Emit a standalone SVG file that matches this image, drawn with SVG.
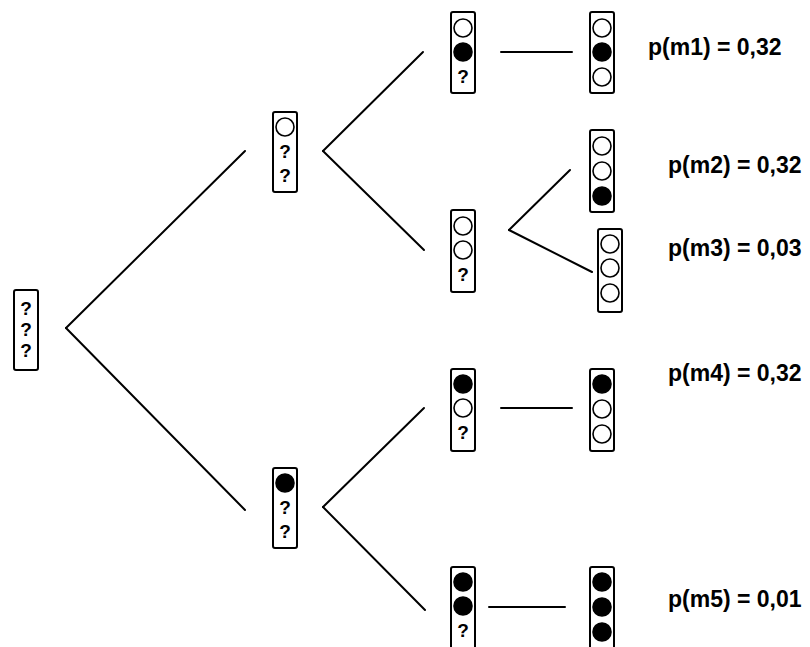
<svg xmlns="http://www.w3.org/2000/svg" width="810" height="647" viewBox="0 0 810 647">
<style>
.box{fill:#fff;stroke:#000;stroke-width:2}
.on{fill:#000;stroke:#000;stroke-width:1.6}
.off{fill:#fff;stroke:#000;stroke-width:1.6}
.q{font-family:"Liberation Sans",Arial,sans-serif;font-weight:bold;font-size:19px;text-anchor:middle;fill:#000}
.lbl{font-family:"Liberation Sans",Arial,sans-serif;font-weight:bold;font-size:23px;fill:#000}
.conn line{stroke:#000;stroke-width:2;stroke-linecap:round}
</style>
<rect width="810" height="647" fill="#fff"/>
<g class="conn" id="connectors">
<line x1="66" y1="328" x2="245" y2="151"/>
<line x1="66" y1="328" x2="245" y2="510"/>
<line x1="323" y1="151" x2="423" y2="52"/>
<line x1="323" y1="151" x2="424" y2="250"/>
<line x1="323" y1="507" x2="424" y2="408"/>
<line x1="323" y1="507" x2="425" y2="610"/>
<line x1="501" y1="52" x2="572" y2="52"/>
<line x1="509" y1="230" x2="570" y2="170"/>
<line x1="509" y1="230" x2="592" y2="272"/>
<line x1="501" y1="408" x2="572" y2="408"/>
<line x1="489" y1="607" x2="565" y2="607"/>
</g>
<g id="root">
<rect class="box" x="14" y="290" width="24" height="80" rx="2"/>
<text class="q" x="26" y="315">?</text>
<text class="q" x="26" y="336">?</text>
<text class="q" x="26" y="357">?</text>
</g>
<g id="n1a">
<rect class="box" x="273" y="112" width="24" height="80" rx="2"/>
<circle class="off" cx="285" cy="127" r="9"/>
<text class="q" x="285" y="158">?</text>
<text class="q" x="285" y="182">?</text>
</g>
<g id="n1b">
<rect class="box" x="273" y="468" width="24" height="80" rx="2"/>
<circle class="on" cx="285" cy="483" r="9"/>
<text class="q" x="285" y="514">?</text>
<text class="q" x="285" y="538">?</text>
</g>
<g id="n2a">
<rect class="box" x="451" y="12" width="24" height="81" rx="2"/>
<circle class="off" cx="463" cy="28" r="9"/>
<circle class="on" cx="463" cy="52" r="9"/>
<text class="q" x="463" y="83">?</text>
</g>
<g id="n2b">
<rect class="box" x="451" y="210" width="24" height="82" rx="2"/>
<circle class="off" cx="463" cy="226" r="9"/>
<circle class="off" cx="463" cy="250" r="9"/>
<text class="q" x="463" y="281">?</text>
</g>
<g id="n2c">
<rect class="box" x="451" y="369" width="24" height="82" rx="2"/>
<circle class="on" cx="463" cy="384" r="9"/>
<circle class="off" cx="463" cy="408" r="9"/>
<text class="q" x="463" y="439">?</text>
</g>
<g id="n2d">
<rect class="box" x="451" y="567" width="24" height="82" rx="2"/>
<circle class="on" cx="463" cy="582" r="9"/>
<circle class="on" cx="463" cy="606" r="9"/>
<text class="q" x="463" y="637">?</text>
</g>
<g id="m1">
<rect class="box" x="590" y="12" width="24" height="81" rx="2"/>
<circle class="off" cx="602" cy="28" r="9"/>
<circle class="on" cx="602" cy="52" r="9"/>
<circle class="off" cx="602" cy="77" r="9"/>
</g>
<g id="m2">
<rect class="box" x="590" y="130" width="24" height="82" rx="2"/>
<circle class="off" cx="602" cy="146" r="9"/>
<circle class="off" cx="602" cy="171" r="9"/>
<circle class="on" cx="602" cy="196" r="9"/>
</g>
<g id="m3">
<rect class="box" x="598" y="229" width="24" height="83" rx="2"/>
<circle class="off" cx="610" cy="244" r="9"/>
<circle class="off" cx="610" cy="268" r="9"/>
<circle class="off" cx="610" cy="293" r="9"/>
</g>
<g id="m4">
<rect class="box" x="590" y="369" width="24" height="82" rx="2"/>
<circle class="on" cx="602" cy="384" r="9"/>
<circle class="off" cx="602" cy="409" r="9"/>
<circle class="off" cx="602" cy="434" r="9"/>
</g>
<g id="m5">
<rect class="box" x="590" y="567" width="24" height="82" rx="2"/>
<circle class="on" cx="602" cy="582" r="9"/>
<circle class="on" cx="602" cy="607" r="9"/>
<circle class="on" cx="602" cy="632" r="9"/>
</g>
<g id="labels">
<text class="lbl" x="648" y="55">p(m1) = 0,32</text>
<text class="lbl" x="668" y="173">p(m2) = 0,32</text>
<text class="lbl" x="668" y="256">p(m3) = 0,03</text>
<text class="lbl" x="668" y="381">p(m4) = 0,32</text>
<text class="lbl" x="668" y="607">p(m5) = 0,01</text>
</g>
</svg>
